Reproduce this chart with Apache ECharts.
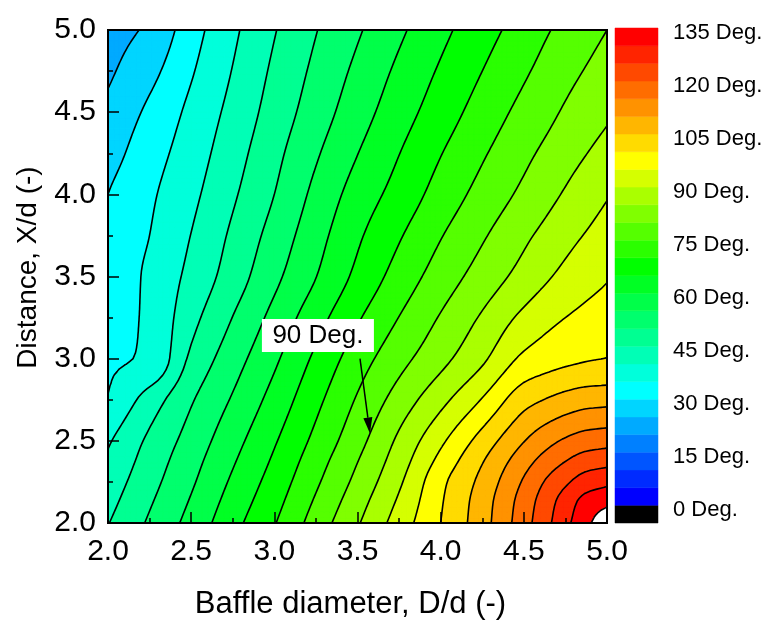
<!DOCTYPE html>
<html>
<head>
<meta charset="utf-8">
<script src="https://cdn.jsdelivr.net/npm/echarts@6/dist/echarts.min.js"></script>
<style>
  html, body { margin: 0; padding: 0; background: #fff; }
  #chart { width: 765px; height: 629px; }
</style>
</head>
<body>
<div id="chart"></div>
<script>
// baffle diameter D/d (columns) and distance X/d (rows); finer near the hot corner
const xs = [2.0, 2.25, 2.5, 2.75, 3.0, 3.25, 3.5, 3.75, 4.0, 4.25, 4.5, 4.625, 4.75, 4.875, 5.0];
const ys = [2.0, 2.125, 2.25, 2.375, 2.5, 2.75, 3.0, 3.25, 3.5, 3.75, 4.0, 4.25, 4.5, 4.75, 5.0];

// angle (deg) along each row, left to right
const deg_y2000 = [44.8, 50.7, 56.7, 63.4, 69.7, 77.2, 84.5, 92.3, 100.0, 108.0, 118.0, 123.2, 128.7, 133.7, 139.5];
const deg_y2125 = [43.5, 49.5, 55.5, 62.1, 68.4, 75.7, 83.0, 90.8, 99.5, 107.6, 117.3, 122.3, 127.4, 131.8, 133.8];
const deg_y2250 = [42.2, 48.3, 54.3, 60.8, 67.1, 74.2, 81.4, 89.2, 98.7, 106.5, 115.6, 120.2, 124.1, 127.5, 128.9];
const deg_y2375 = [40.8, 47.2, 53.2, 59.5, 65.8, 72.8, 79.9, 87.6, 96.5, 104.7, 113.0, 116.8, 120.0, 122.5, 123.4];
const deg_y2500 = [39.4, 46.0, 52.0, 58.2, 64.5, 71.3, 78.3, 86.0, 94.0, 102.0, 109.8, 113.1, 115.7, 117.5, 118.2];
const deg_y2750 = [35.2, 42.2, 49.5, 55.5, 61.8, 68.7, 75.5, 82.1, 88.5, 95.3, 103.1, 105.1, 106.8, 108.0, 108.4];
const deg_y3000 = [34.2, 35.8, 46.0, 52.8, 59.1, 66.0, 72.6, 78.3, 83.5, 89.1, 96.0, 97.6, 98.8, 99.6, 100.1];
const deg_y3250 = [33.0, 35.9, 43.4, 50.1, 56.5, 63.0, 69.4, 75.1, 80.4, 85.6, 91.2, 93.4, 95.0, 96.3, 97.3];
const deg_y3500 = [32.0, 35.9, 41.4, 47.4, 53.8, 59.9, 66.2, 72.0, 77.3, 82.1, 86.8, 89.2, 91.3, 93.1, 94.6];
const deg_y3750 = [31.0, 35.0, 40.1, 45.9, 51.9, 58.1, 64.2, 69.5, 74.7, 79.4, 84.0, 86.2, 88.4, 90.3, 92.1];
const deg_y4000 = [30.0, 34.2, 38.8, 44.3, 50.0, 56.3, 62.1, 66.9, 72.0, 76.7, 81.1, 83.3, 85.5, 87.6, 89.6];
const deg_y4250 = [28.0, 32.8, 37.5, 42.9, 48.6, 54.4, 59.9, 64.9, 69.8, 74.4, 78.8, 80.9, 83.0, 84.9, 86.8];
const deg_y4500 = [26.2, 31.0, 36.2, 41.5, 47.1, 52.5, 57.8, 62.8, 67.5, 72.1, 76.5, 78.5, 80.6, 82.4, 84.2];
const deg_y4750 = [24.2, 28.5, 34.5, 40.2, 45.9, 51.1, 56.1, 61.0, 65.6, 70.0, 74.3, 76.4, 78.5, 80.3, 82.2];
const deg_y5000 = [23.0, 25.9, 32.9, 39.0, 44.7, 49.8, 54.4, 59.1, 63.7, 68.0, 72.2, 74.4, 76.3, 78.1, 80.0];

// colour bar: 5 deg bands, labels every 15 deg
const barLabels = [0, 15, 30, 45, 60, 75, 90, 105, 120, 135];
// <0, 0-5, 5-10, ... 130-135, >135
const bandColors = [
  '#000000',
  '#0000ff', '#002bff', '#0055ff', '#0080ff', '#00aaff', '#00d5ff',
  '#00ffff', '#00ffdb', '#00ffb6', '#00ff92', '#00ff6d', '#00ff49', '#00ff24',
  '#00ff00', '#2bff00', '#55ff00', '#80ff00', '#aaff00', '#d5ff00',
  '#ffff00', '#ffdb00', '#ffb600', '#ff9200', '#ff6d00', '#ff4900', '#ff2400', '#ff0000',
  '#ffffff'
];

// annotation on the plot
const note90 = { text: '90 Deg.', box: [3.262, 3.141], tail: [3.515, 3.0], tip: [3.575, 2.545] };

const rows = [deg_y2000, deg_y2125, deg_y2250, deg_y2375, deg_y2500, deg_y2750, deg_y3000,
  deg_y3250, deg_y3500, deg_y3750, deg_y4000, deg_y4250, deg_y4500, deg_y4750, deg_y5000];
const levels = [-Infinity];
for (let v = 0; v <= 135; v += 5) levels.push(v);
levels.push(Infinity);

const nx = xs.length, ny = ys.length;

function gv(i, j) {
  if (i < 0) return 2 * gv(0, j) - gv(1, j);
  if (i > nx - 1) return 2 * gv(nx - 1, j) - gv(nx - 2, j);
  if (j < 0) return 2 * gv(i, 0) - gv(i, 1);
  if (j > ny - 1) return 2 * gv(i, ny - 1) - gv(i, ny - 2);
  return rows[j][i];
}
function xc(i) { return i < 0 ? 2 * xs[0] - xs[1] : i > nx - 1 ? 2 * xs[nx - 1] - xs[nx - 2] : xs[i]; }
function yc(j) { return j < 0 ? 2 * ys[0] - ys[1] : j > ny - 1 ? 2 * ys[ny - 1] - ys[ny - 2] : ys[j]; }

// monotone cubic (no overshoot) between c[1] and c[2]
function herm(c, v, x) {
  const h0 = c[1] - c[0], h1 = c[2] - c[1], h2 = c[3] - c[2];
  const s0 = (v[1] - v[0]) / h0, s1 = (v[2] - v[1]) / h1, s2 = (v[3] - v[2]) / h2;
  const m1 = s0 * s1 > 0 ? 2 * s0 * s1 / (s0 + s1) : 0;
  const m2 = s1 * s2 > 0 ? 2 * s1 * s2 / (s1 + s2) : 0;
  const t = (x - c[1]) / h1, t2 = t * t, t3 = t2 * t;
  return (2 * t3 - 3 * t2 + 1) * v[1] + (t3 - 2 * t2 + t) * h1 * m1 +
    (-2 * t3 + 3 * t2) * v[2] + (t3 - t2) * h1 * m2;
}
function cell(arr, x) {
  let i = 0;
  while (i < arr.length - 2 && x > arr[i + 1]) i++;
  return i;
}
function sample(x, y) {
  const i = cell(xs, x), j = cell(ys, y);
  const cx = [xc(i - 1), xc(i), xc(i + 1), xc(i + 2)];
  const cy = [yc(j - 1), yc(j), yc(j + 1), yc(j + 2)];
  const col = [];
  for (let k = -1; k <= 2; k++) {
    col.push(herm(cx, [gv(i - 1, j + k), gv(i, j + k), gv(i + 1, j + k), gv(i + 2, j + k)], x));
  }
  return herm(cy, col, y);
}

const STEPS = 90;
const x0 = xs[0], x1 = xs[nx - 1], y0 = ys[0], y1 = ys[ny - 1];
const nodes = [];
for (let b = 0; b <= STEPS; b++) {
  for (let a = 0; a <= STEPS; a++) {
    const x = x0 + (x1 - x0) * a / STEPS, y = y0 + (y1 - y0) * b / STEPS;
    nodes.push([x, y, sample(x, y)]);
  }
}
const tris = [];
const nn = STEPS + 1;
for (let b = 0; b < STEPS; b++) {
  for (let a = 0; a < STEPS; a++) {
    const n00 = nodes[b * nn + a], n10 = nodes[b * nn + a + 1];
    const n01 = nodes[(b + 1) * nn + a], n11 = nodes[(b + 1) * nn + a + 1];
    tris.push([n00, n10, n11], [n00, n11, n01]);
  }
}

function clip(poly, lim, keepAbove) {
  const out = [];
  for (let k = 0; k < poly.length; k++) {
    const a = poly[k], b = poly[(k + 1) % poly.length];
    const ina = keepAbove ? a[2] >= lim : a[2] < lim;
    const inb = keepAbove ? b[2] >= lim : b[2] < lim;
    if (ina) out.push(a);
    if (ina !== inb) {
      const t = (lim - a[2]) / (b[2] - a[2]);
      out.push([a[0] + t * (b[0] - a[0]), a[1] + t * (b[1] - a[1]), lim]);
    }
  }
  return out;
}

function bandPath(k, api) {
  const lo = levels[k], hi = levels[k + 1];
  let d = '';
  for (const tri of tris) {
    const mn = Math.min(tri[0][2], tri[1][2], tri[2][2]);
    const mx = Math.max(tri[0][2], tri[1][2], tri[2][2]);
    if (mx < lo || mn >= hi) continue;
    const poly = clip(clip(tri, lo, true), hi, false);
    if (poly.length < 3) continue;
    poly.forEach((p, n) => {
      const c = api.coord([p[0], p[1]]);
      d += (n ? 'L' : 'M') + c[0].toFixed(2) + ' ' + c[1].toFixed(2);
    });
    d += 'Z';
  }
  return d;
}

function contourPath(L, api) {
  let d = '';
  for (const tri of tris) {
    const pts = [];
    for (let k = 0; k < 3; k++) {
      const a = tri[k], b = tri[(k + 1) % 3];
      if ((a[2] >= L) !== (b[2] >= L)) {
        const t = (L - a[2]) / (b[2] - a[2]);
        pts.push([a[0] + t * (b[0] - a[0]), a[1] + t * (b[1] - a[1])]);
      }
    }
    if (pts.length === 2) {
      const p = api.coord(pts[0]), q = api.coord(pts[1]);
      d += 'M' + p[0].toFixed(2) + ' ' + p[1].toFixed(2) + 'L' + q[0].toFixed(2) + ' ' + q[1].toFixed(2);
    }
  }
  return d;
}

const contourLevels = [];
for (let v = 5; v <= 135; v += 5) contourLevels.push(v);

const font = 'Liberation Sans, Arial, sans-serif';
const chart = echarts.init(document.getElementById('chart'));

const option = {
  animation: false,
  backgroundColor: '#fff',
  textStyle: { fontFamily: font, color: '#000' },
  grid: [
    { left: 108, top: 30, width: 499, height: 493, show: true, z: 3,
      backgroundColor: 'transparent', borderColor: '#000', borderWidth: 2 },
    { left: 615, top: 28, width: 43, height: 495 }
  ],
  xAxis: [
    {
      gridIndex: 0, type: 'value', min: 2, max: 5, interval: 0.5, z: 4,
      name: 'Baffle diameter, D/d (-)', nameLocation: 'middle', nameGap: 66,
      nameTextStyle: { fontSize: 31, color: '#000', fontFamily: font, padding: [0, 14, 0, 0] },
      axisLine: { show: true, lineStyle: { color: '#000', width: 2 } },
      axisTick: { inside: true, length: 11, lineStyle: { color: '#000', width: 1.5 } },
      minorTick: { show: true, splitNumber: 2, length: 5, lineStyle: { color: '#000', width: 1.5 } },
      splitLine: { show: false },
      axisLabel: { fontSize: 30, color: '#000', margin: 14, formatter: v => v.toFixed(1) }
    },
    { gridIndex: 1, type: 'value', min: 0, max: 1, show: false }
  ],
  yAxis: [
    {
      gridIndex: 0, type: 'value', min: 2, max: 5, interval: 0.5, z: 4,
      name: 'Distance, X/d (-)', nameLocation: 'middle', nameGap: 66,
      nameTextStyle: { fontSize: 28, color: '#000', fontFamily: font, padding: [0, 0, 0, 18] },
      axisLine: { show: true, lineStyle: { color: '#000', width: 2 } },
      axisTick: { inside: true, length: 11, lineStyle: { color: '#000', width: 1.5 } },
      minorTick: { show: true, splitNumber: 2, length: 5, lineStyle: { color: '#000', width: 1.5 } },
      splitLine: { show: false },
      axisLabel: { fontSize: 30, color: '#000', margin: 12, formatter: v => v.toFixed(1) }
    },
    { gridIndex: 1, type: 'value', min: -5, max: 135, show: false }
  ],
  series: [
    {
      type: 'custom', name: 'bands', xAxisIndex: 0, yAxisIndex: 0, z: 1, silent: true,
      data: bandColors.map((c, k) => [2, 2, k]),
      encode: { x: 0, y: 1 },
      renderItem(params, api) {
        const k = api.value(2);
        const d = bandPath(k, api);
        if (!d) return null;
        return { type: 'path', shape: { pathData: d },
          style: { fill: bandColors[k], stroke: bandColors[k], lineWidth: 0.8 } };
      }
    },
    {
      type: 'custom', name: 'contours', xAxisIndex: 0, yAxisIndex: 0, z: 2, silent: true,
      data: contourLevels.map(v => [2, 2, v]),
      encode: { x: 0, y: 1 },
      renderItem(params, api) {
        const d = contourPath(api.value(2), api);
        if (!d) return null;
        return { type: 'path', shape: { pathData: d },
          style: { fill: null, stroke: '#000', lineWidth: 1.6, lineCap: 'round', lineJoin: 'round' } };
      }
    },
    {
      type: 'custom', name: 'note', xAxisIndex: 0, yAxisIndex: 0, z: 5, silent: true,
      data: [[note90.box[0], note90.box[1]]],
      renderItem(params, api) {
        const b = api.coord(note90.box);
        const s = api.coord(note90.tail);
        const t = api.coord(note90.tip);
        const dx = t[0] - s[0], dy = t[1] - s[1];
        const len = Math.sqrt(dx * dx + dy * dy);
        const ux = dx / len, uy = dy / len;
        const hl = 16, hw = 4.5;
        const bx = t[0] - ux * hl, by = t[1] - uy * hl;
        return {
          type: 'group',
          children: [
            { type: 'rect', shape: { x: b[0] - 56, y: b[1] - 16.5, width: 112, height: 33 },
              style: { fill: '#fff' } },
            { type: 'text', x: b[0], y: b[1],
              style: { text: note90.text, fontSize: 26, fontFamily: font, fill: '#000',
                align: 'center', verticalAlign: 'middle' } },
            { type: 'line', shape: { x1: s[0], y1: s[1], x2: bx, y2: by },
              style: { stroke: '#000', lineWidth: 1.5 } },
            { type: 'polygon', shape: { points: [[t[0], t[1]],
                [bx - uy * hw, by + ux * hw], [bx + uy * hw, by - ux * hw]] },
              style: { fill: '#000' } }
          ]
        };
      }
    },
    {
      type: 'custom', name: 'colorbar', xAxisIndex: 1, yAxisIndex: 1, silent: true,
      data: bandColors.slice(0, 28).map((c, k) => [0, k === 0 ? -5 : levels[k], levels[k + 1], k]),
      encode: { x: 0, y: 1 },
      renderItem(params, api) {
        const k = api.value(3);
        const p1 = api.coord([0, api.value(2)]);
        const p2 = api.coord([1, api.value(1)]);
        return { type: 'rect',
          shape: { x: p1[0], y: p1[1], width: p2[0] - p1[0], height: p2[1] - p1[1] },
          style: { fill: bandColors[k], stroke: bandColors[k], lineWidth: 0.5 } };
      }
    },
    {
      type: 'custom', name: 'colorbarLabels', xAxisIndex: 1, yAxisIndex: 1, silent: true,
      data: barLabels.map(v => [1, v]),
      encode: { x: 0, y: 1 },
      renderItem(params, api) {
        const p = api.coord([1, api.value(1)]);
        return { type: 'text', x: p[0] + 15, y: p[1] + 5,
          style: { text: api.value(1) + ' Deg.', fontSize: 22, fontFamily: font, fill: '#000',
            align: 'left', verticalAlign: 'middle' } };
      }
    }
  ]
};

chart.setOption(option);
</script>
</body>
</html>
